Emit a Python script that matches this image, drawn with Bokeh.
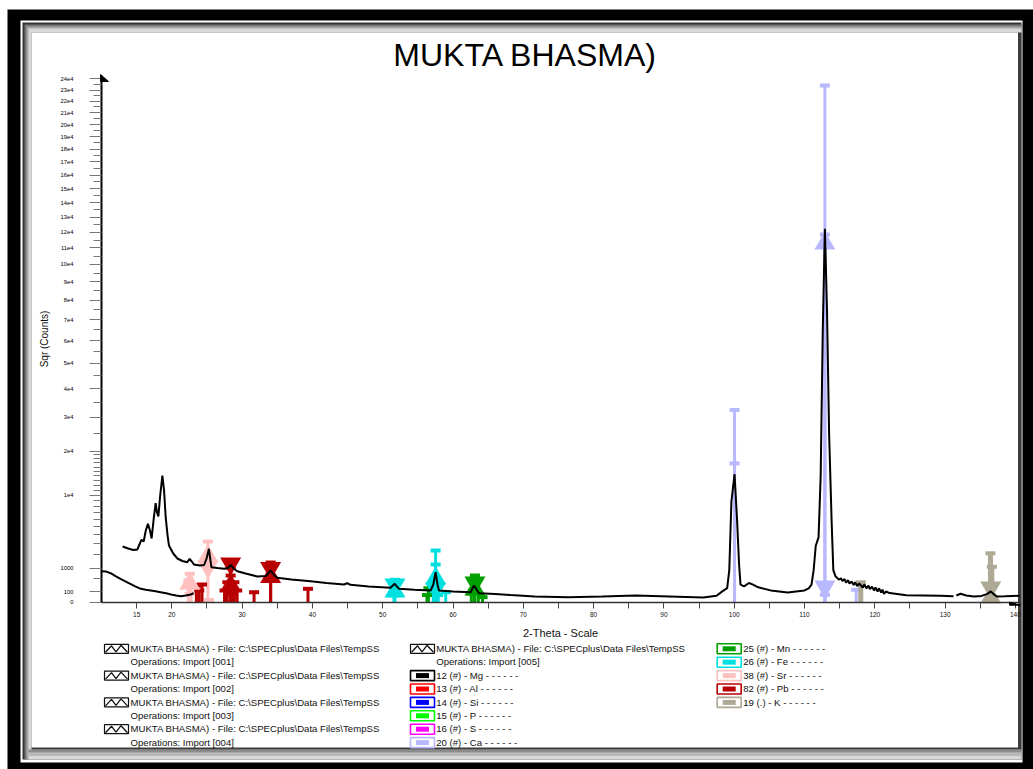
import math
from bokeh.plotting import figure
from bokeh.models import Range1d, FixedTicker, BoxAnnotation, PolyAnnotation, Label, LinearAxis
from bokeh.embed import file_html
from bokeh.resources import INLINE

FONT = "Liberation Sans"

TITLE = "MUKTA BHASMA)"
X_LABEL = "2-Theta - Scale"
Y_LABEL = "Sqr (Counts)"

# ---------------- scans (2-theta, counts) ----------------
scan1_x = [10.0, 10.6, 11.3, 12.0, 12.7, 13.4, 14.1, 14.8, 15.6, 16.3, 17.0, 17.7,
           18.4, 19.2, 19.9, 20.6, 21.3, 22.0, 22.7, 23.1]
scan1_counts = [842, 830, 737, 600, 480, 380, 297, 220, 157, 135, 120, 105,
                88, 70, 52, 40, 32, 40, 52, 71]

scan2_x = [13.0, 13.8, 14.5, 15.1, 15.4, 15.67, 16.0, 16.3, 16.6, 16.9, 17.13, 17.4,
           17.7, 17.9, 18.09, 18.35, 18.66, 18.9, 19.13, 19.4, 19.6, 20.2, 20.8, 21.5,
           22.2, 22.54, 22.85, 23.15, 24.0, 24.6, 24.95, 25.28, 25.63, 26.5, 27.42, 28.0,
           28.37, 28.8, 29.32, 30.5, 32.17, 33.4, 34.06, 34.6, 35.01, 37.0, 39.75, 42.0,
           44.49, 44.97, 45.4, 48.0, 51.13, 51.7, 52.31, 54.5, 56.82, 57.2, 57.53, 57.8,
           58.0, 60.0, 62.51, 62.98, 63.69, 66.0, 68.2, 71.6, 76.4, 81.2, 86.0, 90.8,
           95.6, 97.5, 98.3, 99.0, 99.3, 99.6, 100.05, 100.4, 100.7, 100.9, 101.4, 102.1,
           102.6, 103.3, 105.2, 107.6, 110.0, 110.6, 111.0, 111.3, 111.6, 112.0, 112.3, 112.6,
           112.9, 113.2, 113.5, 113.85, 114.1, 114.4, 114.9, 115.2, 115.4, 115.7, 115.9, 116.2,
           116.4, 116.7, 117.0, 117.2, 117.5, 117.8, 118.0, 118.3, 118.5, 118.8, 119.1, 119.3,
           119.6, 119.9, 120.1, 120.4, 120.6, 120.9, 121.1, 121.3, 121.6, 122.1, 124.5, 127.0,
           129.3, 131.2]
scan2_counts = [2720, 2528, 2390, 2434, 2918, 3414, 3230, 4506, 5388, 4506, 3556, 5853,
                8592, 7053, 6437, 9980, 14070, 10940, 6334, 3897, 2810, 2079, 1673, 1488,
                1403, 1651, 1452, 1246, 1181, 1213, 1673, 2500, 1074, 1025, 978, 1025,
                1213, 995, 842, 722, 579, 602, 881, 625, 522, 452, 387, 323,
                275, 316, 265, 216, 182, 297, 157, 135, 120, 275, 789, 275,
                120, 100, 88, 244, 71, 59, 45, 28, 22, 28, 39, 28,
                19, 36, 102, 174, 900, 8820, 14360, 6100, 1200, 268, 219, 323,
                280, 203, 122, 82, 122, 170, 268, 900, 2790, 3680, 14000, 65000,
                122240, 75000, 25000, 6000, 900, 593, 448, 500, 390, 470, 340, 420,
                300, 380, 260, 350, 230, 310, 250, 190, 280, 170, 240, 150,
                210, 120, 190, 100, 170, 80, 140, 60, 100, 73, 43, 40,
                36, 30]

scan3_x = [131.6, 132.2, 133.0, 134.1, 135.2, 136.0, 136.5, 137.0, 137.4, 138.5, 139.5, 140.6]
scan3_counts = [40, 62, 40, 28, 35, 60, 102, 50, 28, 30, 34, 36]

# ---------------- axes ----------------
x_ticks = [15, 20, 25, 30, 35, 40, 45, 50, 55, 60, 65, 70, 75, 80, 85, 90, 95, 100,
           105, 110, 115, 120, 125, 130, 135, 140]
x_tick_labels = ["15", "20", "", "30", "", "40", "", "50", "", "60", "", "70", "", "80",
                 "", "90", "", "100", "", "110", "", "120", "", "130", "", "140"]
y_tick_counts = [0, 100, 1000] + [k * 10000 for k in range(1, 25)]
y_tick_labels = ["0", "100", "1000"] + ["%de4" % k for k in range(1, 25)]
y_minor_counts = ([500] + [k * 1000 for k in range(2, 10)] + [k * 1000 for k in range(11, 20)]
                  + [k * 10000 + 5000 for k in range(2, 24)])

# ---------------- phase legend ----------------
scan_file_label = r"MUKTA BHASMA) - File: C:\SPECplus\Data Files\TempSS"
scan_ops_labels = ["Operations: Import [001]", "Operations: Import [002]",
                   "Operations: Import [003]", "Operations: Import [004]",
                   "Operations: Import [005]"]
element_labels = ["12 (#) - Mg - - - - - -", "13 (#) - Al - - - - - -",
                  "14 (#) - Si - - - - - -", "15 (#) - P - - - - - -",
                  "16 (#) - S - - - - - -", "20 (#) - Ca - - - - - -",
                  "25 (#) - Mn - - - - - -", "26 (#) - Fe - - - - - -",
                  "38 (#) - Sr - - - - - -", "82 (#) - Pb - - - - - -",
                  "19 (.) - K - - - - - -"]
element_colors = ["#000000", "#ff0000", "#0000ff", "#00ff00", "#ff00ff", "#b8b8ff",
                  "#00a000", "#00e0e0", "#ffc0c0", "#b80000", "#aea994"]

# ---------------- pattern sticks (2-theta, counts) ----------------
ca_x = [100.05, 100.05, 112.9, 112.9, 112.9, 117.35]
ca_counts = [32390, 16890, 234060, 118530, 48, 135]
k_x = [118.0, 136.45, 136.65]
k_counts = [347, 2097, 1099]
mn_x = [56.3, 56.5, 63.12, 63.0, 62.6, 63.6, 64.2]
mn_counts = [45, 170, 625, 440, 66, 66, 22]
fe_x = [51.74, 51.6, 57.53, 57.53, 57.2, 57.9, 58.96]
fe_counts = [440, 40, 2343, 1246, 62, 45, 88]
sr_x = [25.14, 25.3, 22.55, 22.35, 22.75, 22.55]
sr_counts = [3230, 4, 707, 413, 197, 62]
pb_x = [28.37, 28.37, 27.9, 28.9, 27.5, 29.3, 28.6, 34.06, 34.06, 23.5, 24.3, 23.9, 31.7, 39.37]
pb_counts = [1037, 625, 351, 351, 120, 120, 62, 1381, 413, 244, 275, 120, 88, 157]

# peak markers: up / down triangles
ca_up_x, ca_up_counts = [112.9], [112800]
ca_dn_x, ca_dn_counts = [112.9], [216]
k_up_x, k_up_counts = [136.5], [19]
k_dn_x, k_dn_counts = [136.5], [189]
mn_up_x, mn_up_counts = [63.12], [141]
mn_dn_x, mn_dn_counts = [63.12], [340]
fe_up_x, fe_up_counts = [57.53, 51.74], [492, 100]
fe_dn_x, fe_dn_counts = [57.53, 51.74], [165, 275]
sr_up_x, sr_up_counts = [25.14, 22.55], [1831, 300]
sr_dn_x, sr_dn_counts = [25.14], [1117]
pb_up_x, pb_up_counts = [28.37, 34.06], [244, 560]
pb_dn_x, pb_dn_counts = [28.37, 34.06], [1313, 1025]


def sq(vals):
    return [math.sqrt(v) for v in vals]


# ---------------- geometry (pixels) ----------------
W, H = 1033, 769
FL, FR, FT, FB = 101, 1019, 75, 601.7      # plotting area edges
PXU_X, PXU_Y = 7.03, 1.068                 # px per 2-theta degree, px per sqrt(count)
X0 = 10.0


def gx(px):
    return X0 + (px - FL) / PXU_X


def gy(py):
    return (FB - py) / PXU_Y


X_END, Y_TOP = gx(FR), gy(FT)

p = figure(width=W, height=H, output_backend="svg", toolbar_location=None, tools="",
           x_range=Range1d(gx(0), gx(W)), y_range=Range1d(gy(H), gy(0)),
           x_axis_location=None, y_axis_location=None, min_border=0,
           background_fill_color="white", border_fill_color="white")
p.outline_line_color = None
for g in p.grid:
    g.visible = False

# ---------------- window frame ----------------
frame_boxes = [
    ((7, 9, W, H), "#000000"),
    ((20, 20, 1022, 762), "#ffffff"),
    ((22, 22, 1021, 759), "#333333"),
    ((24, 24, 1021, 759), "#767676"),
    ((26, 26, 1021, 759), "#a8a8a8"),
    ((28, 28, 1021, 759), "#d8d8d8"),
    ((28, 752, 1021, 755.5), "#b8b8b8"),
    ((28, 749, 1021, 752), "#8c8c8c"),
    ((31, 32, 1021, 749), "#3c3c3c"),
    ((31, 32, 1017.5, 747), "#ffffff"),
]
for (l, t, r, b), col in frame_boxes:
    p.add_layout(BoxAnnotation(left=gx(l), right=gx(r), top=gy(t), bottom=gy(b),
                               fill_color=col, fill_alpha=1.0, line_alpha=0,
                               level="underlay"))

# ---------------- axes ----------------
xa = LinearAxis(fixed_location=0, bounds=(X0, X_END))
xa.ticker = FixedTicker(ticks=x_ticks, minor_ticks=[])
xa.major_label_overrides = {t: l for t, l in zip(x_ticks, x_tick_labels)}
xa.major_tick_out = 6
xa.major_tick_in = 0
xa.minor_tick_out = 0
xa.minor_tick_in = 0
xa.major_tick_line_color = "#444444"
xa.axis_line_color = "#333333"
xa.axis_line_width = 1.5
xa.major_label_text_font = FONT
xa.major_label_text_font_size = "6.5px"
xa.major_label_text_color = "#111111"
xa.major_label_standoff = 4
xa.axis_label = X_LABEL
xa.axis_label_text_font = FONT
xa.axis_label_text_font_size = "11px"
xa.axis_label_text_font_style = "normal"
xa.axis_label_text_color = "#111111"
xa.axis_label_standoff = 6
p.add_layout(xa, "below")

y_major = [round(math.sqrt(c), 6) for c in y_tick_counts]
y_minor = [round(math.sqrt(c), 6) for c in y_minor_counts]
ya = LinearAxis(fixed_location=X0, bounds=(0, Y_TOP))
ya.ticker = FixedTicker(ticks=y_major, minor_ticks=y_minor)
ya.major_label_overrides = {t: l for t, l in zip(y_major, y_tick_labels)}
ya.major_tick_out = 12
ya.major_tick_in = 0
ya.minor_tick_out = 8
ya.minor_tick_in = 0
ya.major_tick_line_color = "#777777"
ya.minor_tick_line_color = "#777777"
ya.axis_line_color = "#000000"
ya.axis_line_width = 2
ya.major_label_text_font = FONT
ya.major_label_text_font_size = "5.8px"
ya.major_label_text_color = "#000000"
ya.major_label_standoff = 16
ya.axis_label = Y_LABEL
ya.axis_label_text_font = FONT
ya.axis_label_text_font_size = "10px"
ya.axis_label_text_font_style = "normal"
ya.axis_label_text_color = "#111111"
ya.axis_label_standoff = 8
p.add_layout(ya, "left")

# ---------------- pattern sticks ----------------
def sticks(xs, cs, color, lw=3):
    ys = sq(cs)
    p.segment(x0=xs, y0=[0] * len(xs), x1=xs, y1=ys, line_color=color, line_width=lw)
    p.rect(x=xs, y=ys, width=10, height=4, width_units="screen", height_units="screen",
           fill_color=color, line_color=None)


def tris(xs, cs, color, marker):
    p.scatter(x=xs, y=sq(cs), marker=marker, size=21, fill_color=color, line_color=None)


C = dict(zip(["Mg", "Al", "Si", "P", "S", "Ca", "Mn", "Fe", "Sr", "Pb", "K"], element_colors))
sticks(sr_x, sr_counts, C["Sr"])
sticks(pb_x, pb_counts, C["Pb"])
sticks(fe_x, fe_counts, C["Fe"])
sticks(mn_x, mn_counts, C["Mn"])
sticks(ca_x, ca_counts, C["Ca"])
sticks(k_x, k_counts, C["K"], lw=5)
tris(sr_up_x, sr_up_counts, C["Sr"], "triangle")
tris(sr_dn_x, sr_dn_counts, C["Sr"], "inverted_triangle")
tris(pb_up_x, pb_up_counts, C["Pb"], "triangle")
tris(pb_dn_x, pb_dn_counts, C["Pb"], "inverted_triangle")
tris(fe_up_x, fe_up_counts, C["Fe"], "triangle")
tris(fe_dn_x, fe_dn_counts, C["Fe"], "inverted_triangle")
tris(mn_up_x, mn_up_counts, C["Mn"], "triangle")
tris(mn_dn_x, mn_dn_counts, C["Mn"], "inverted_triangle")
tris(ca_up_x, ca_up_counts, C["Ca"], "triangle")
tris(ca_dn_x, ca_dn_counts, C["Ca"], "inverted_triangle")
tris(k_up_x, k_up_counts, C["K"], "triangle")
tris(k_dn_x, k_dn_counts, C["K"], "inverted_triangle")

# ---------------- scans ----------------
for sx, sc in [(scan1_x, scan1_counts), (scan2_x, scan2_counts), (scan3_x, scan3_counts)]:
    p.line(sx, sq(sc), line_color="#000000", line_width=2)

# axis arrow heads
p.add_layout(PolyAnnotation(xs=[gx(FL - 1), gx(FL + 7), gx(FL - 1)],
                            ys=[gy(FT - 1), gy(FT + 6), gy(FT + 6)],
                            fill_color="black", fill_alpha=1, line_color="black",
                            line_alpha=1, line_width=1))
p.add_layout(PolyAnnotation(xs=[gx(FR - 10), gx(FR + 1), gx(FR - 10)],
                            ys=[gy(FB), gy(FB + 3), gy(FB + 3)],
                            fill_color="black", fill_alpha=1, line_color="black",
                            line_alpha=1, line_width=1))

# ---------------- title ----------------
p.add_layout(Label(x=gx(525), y=gy(54), text=TITLE, level="overlay",
                   text_align="center", text_baseline="alphabetic",
                   text_font=FONT, text_font_size="32px", text_color="#000000"))

# ---------------- legend ----------------
ROW0, STEP = 648.3, 13.4


def row_y(i):
    return ROW0 + STEP * i


def text(x, i, s):
    p.add_layout(Label(x=gx(x), y=gy(row_y(i) - 0.3), text=s, level="overlay",
                       text_align="left", text_baseline="alphabetic",
                       text_font=FONT, text_font_size="9.6px", text_color="#111111"))


def zigzag_icon(l, i):
    t = row_y(i) - 4.5
    p.add_layout(BoxAnnotation(left=gx(l), right=gx(l + 24), top=gy(t), bottom=gy(t + 9),
                               fill_alpha=0, line_color="#111111", line_alpha=1,
                               line_width=1.2))
    zx = [l + 1, l + 7, l + 11.5, l + 16.5, l + 23]
    zy = [t + 8, t + 1.5, t + 7.5, t + 1, t + 8]
    px_x = zx + zx[-2:0:-1]
    px_y = zy + zy[-2:0:-1]
    p.add_layout(PolyAnnotation(xs=[gx(v) for v in px_x], ys=[gy(v) for v in px_y],
                                fill_alpha=0, line_color="#111111", line_alpha=1,
                                line_width=1.3))


def color_icon(l, i, col):
    t = row_y(i) - 5
    p.add_layout(BoxAnnotation(left=gx(l), right=gx(l + 24), top=gy(t), bottom=gy(t + 10),
                               fill_alpha=0, line_color=col, line_alpha=1, line_width=1.6))
    p.add_layout(BoxAnnotation(left=gx(l + 5.5), right=gx(l + 18.5),
                               top=gy(t + 2.5), bottom=gy(t + 7.5),
                               fill_color=col, fill_alpha=1, line_alpha=0))


COL1_ICON, COL1_TEXT = 104, 130
COL2_ICON, COL2_TEXT = 410, 435.7
COL3_ICON, COL3_TEXT = 716.7, 742.7

for j in range(4):
    zigzag_icon(COL1_ICON, 2 * j)
    text(COL1_TEXT, 2 * j, scan_file_label)
    text(COL1_TEXT, 2 * j + 1, scan_ops_labels[j])
zigzag_icon(COL2_ICON, 0)
text(COL2_TEXT, 0, scan_file_label)
text(COL2_TEXT, 1, scan_ops_labels[4])
for k in range(6):
    color_icon(COL2_ICON, k + 2, element_colors[k])
    text(COL2_TEXT, k + 2, element_labels[k])
for k in range(6, 11):
    color_icon(COL3_ICON, k - 6, element_colors[k])
    text(COL3_TEXT, k - 6, element_labels[k])

open("out.html", "w").write(file_html(p, INLINE))
